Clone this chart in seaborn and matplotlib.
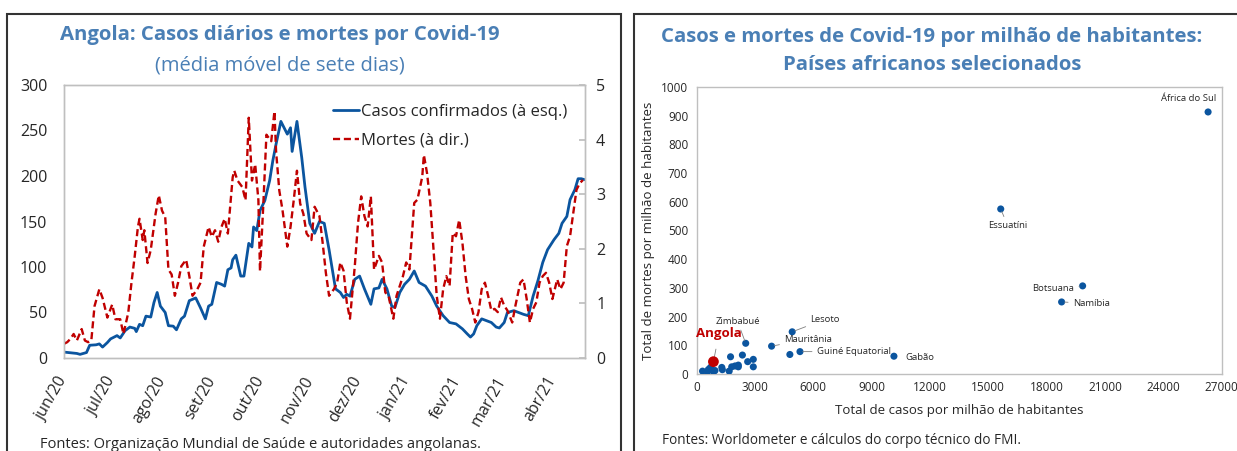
import matplotlib
matplotlib.use('Agg')
import matplotlib.pyplot as plt
from matplotlib.patches import Rectangle
import seaborn as sns
import pandas as pd

# ---- dados: Angola, média móvel de 7 dias (dias desde 1/jun/2020) ----
dias_casos = [0, 8, 10, 14, 16, 20, 22, 24, 27, 29,
              33, 35, 38, 41, 44, 45, 47, 49, 51, 54,
              56, 58, 60, 63, 65, 68, 70, 73, 75, 78,
              82, 85, 88, 90, 92, 95, 98, 100, 102, 104,
              105, 107, 110, 112, 115, 117, 118, 120, 122, 125,
              128, 130, 132, 135, 139, 141, 142, 145, 148, 150,
              153, 156, 159, 162, 165, 169, 172, 174, 176, 178,
              181, 184, 187, 191, 193, 196, 198, 201, 204, 206,
              209, 212, 215, 218, 221, 225, 229, 232, 236, 240,
              244, 248, 251, 253, 255, 257, 260, 263, 266, 269,
              271, 274, 276, 280, 283, 286, 289, 292, 295, 298,
              301, 305, 308, 310, 313, 315, 318, 320, 322, 324]
casos = [6.5, 5, 4, 6, 14, 14.5, 15.5, 12, 17, 21,
         24.6, 22, 30, 34, 32.6, 29, 37, 35.5, 46, 45,
         61, 72, 57, 50, 35.5, 35, 31, 43, 46, 63,
         66, 55, 43, 57, 59, 83, 81, 79, 97, 99,
         108, 113, 90, 90, 126, 122, 144, 140, 162, 173,
         195, 217, 235, 260, 246, 253, 227, 260, 220, 188,
         148, 137, 150, 148, 119, 76, 72, 66.5, 70, 68,
         86.5, 90, 76, 59, 76, 77, 86.5, 76, 57, 55.6,
         72, 81, 86.5, 95.6, 83, 79, 68, 57, 46.5, 39,
         37.5, 32, 26.5, 23, 26.5, 35.6, 43, 41, 39, 34,
         33, 39, 50, 52, 50, 48, 46.5, 68, 85, 105,
         119, 130, 137, 148, 155.6, 174, 185, 197, 197, 196]

dias_mortes = [0, 2, 4, 6, 8, 11, 13, 15, 17, 19,
               22, 24, 27, 30, 32, 35, 37, 40, 42, 44,
               46, 47, 49, 50, 52, 54, 57, 59, 61, 63,
               65, 67, 69, 71, 73, 76, 78, 80, 83, 85,
               87, 90, 92, 94, 96, 98, 100, 102, 105, 106,
               108, 111, 113, 115, 117, 119, 121, 122, 124, 126,
               129, 131, 132, 134, 136, 139, 141, 143, 145, 147,
               149, 151, 154, 156, 159, 161, 163, 165, 168, 170,
               172, 174, 176, 178, 181, 183, 185, 187, 189, 191,
               193, 196, 198, 200, 202, 205, 207, 209, 211, 213,
               215, 218, 220, 223, 224, 226, 228, 230, 232, 234,
               236, 238, 240, 242, 244, 246, 248, 250, 252, 254,
               256, 258, 260, 262, 264, 266, 268, 270, 272, 274,
               276, 279, 281, 284, 286, 288, 290, 292, 294, 296,
               298, 300, 302, 304, 307, 309, 311, 313, 315, 317,
               319, 321, 323]
mortes = [0.26, 0.29, 0.35, 0.44, 0.32, 0.53, 0.32, 0.29, 0.32, 0.95,
          1.26, 1.1, 0.74, 0.98, 0.71, 0.71, 0.44, 0.83, 1.38, 1.86,
          2.4, 2.55, 2.16, 2.34, 1.74, 1.98, 2.64, 2.98, 2.7, 2.58,
          1.62, 1.53, 1.14, 1.38, 1.68, 1.8, 1.5, 1.14, 1.26, 1.38,
          2.04, 2.4, 2.22, 2.34, 2.13, 2.4, 2.55, 2.28, 3.31, 3.43,
          3.25, 3.13, 2.89, 4.4, 3.25, 3.55, 2.89, 1.59, 2.77, 4.09,
          3.97, 4.52, 3.79, 3.07, 2.71, 2.04, 2.4, 2.89, 3.43, 2.83,
          2.64, 2.28, 2.16, 2.77, 2.6, 2.11, 1.56, 1.14, 1.26, 1.38,
          1.75, 1.6, 1.02, 0.72, 1.68, 2.47, 2.96, 2.6, 2.41, 2.96,
          1.62, 1.87, 1.75, 1.2, 1.14, 0.72, 1.14, 1.32, 1.5, 1.75,
          1.62, 2.84, 2.9, 3.32, 3.72, 3.38, 2.84, 1.99, 1.14, 0.72,
          1.26, 1.5, 1.32, 2.29, 2.23, 2.53, 2.11, 1.5, 1.08, 0.9,
          0.65, 0.84, 1.26, 1.38, 1.14, 0.87, 0.9, 0.84, 1.11, 0.96,
          0.87, 0.65, 0.96, 1.38, 1.44, 1.08, 0.65, 0.9, 1.02, 1.38,
          1.5, 1.56, 1.38, 1.08, 1.44, 1.26, 1.38, 2.05, 2.23, 2.65,
          3.08, 3.2, 3.26]

meses = ['jun/20', 'jul/20', 'ago/20', 'set/20', 'out/20', 'nov/20',
         'dez/20', 'jan/21', 'fev/21', 'mar/21', 'abr/21']

# ---- dados: países africanos (por milhão de habitantes) ----
paises = ['África do Sul', 'Essuatíni', 'Botsuana', 'Namíbia', 'Lesoto',
          'Mauritânia', 'Guiné Equatorial', 'Gabão', 'Zimbabué']
casos_pm = [26300, 15640, 19850, 18770, 4920, 3860, 5320, 10150, 2530]
mortes_pm = [913, 575, 307, 251, 147, 97, 78, 62, 107]
# outros países sem rótulo
outros_casos = [310, 560, 615, 720, 870, 950, 1300, 1330, 1680, 1750,
                1810, 1980, 2150, 2150, 2360, 2630, 2920, 2920, 4800]
outros_mortes = [10, 8, 16, 23, 8, 12, 23, 15, 10, 60,
                 25, 28, 31, 25, 66, 43, 51, 25, 68]
angola_casos = [870]
angola_mortes = [43]

# ---- estilo ----
sns.set_theme(style='white')
plt.rcParams['font.family'] = ['Open Sans', 'DejaVu Sans']
AZUL = '#0b559f'
VERMELHO = '#c00000'
TITULO = '#4a7fb5'
CINZA = '#bfbfbf'
TEXTO = '#262626'

W, H = 1237, 451
fig = plt.figure(figsize=(W / 100, H / 100), dpi=100)

# molduras dos dois painéis
fig.patches.append(Rectangle((7 / W, -0.1), (621 - 7) / W, 1.1 - 14 / H,
                             transform=fig.transFigure, fill=False,
                             edgecolor='#333333', lw=1.5))
fig.patches.append(Rectangle((634 / W, -0.1), 0.5, 1.1 - 14 / H,
                             transform=fig.transFigure, fill=False,
                             edgecolor='#333333', lw=1.5))

# ============================================
# PAINEL 1: Angola, casos e mortes diários
# ============================================
inicio = pd.Timestamp('2020-06-01')
df_c = pd.DataFrame({'data': inicio + pd.to_timedelta(dias_casos, unit='D'), 'v': casos})
df_m = pd.DataFrame({'data': inicio + pd.to_timedelta(dias_mortes, unit='D'), 'v': mortes})

ax = fig.add_axes([64 / W, 1 - 358 / H, (585 - 64) / W, (358 - 85) / H])
ax2 = ax.twinx()
sns.lineplot(data=df_c, x='data', y='v', ax=ax, color=AZUL, lw=2, legend=False)
sns.lineplot(data=df_m, x='data', y='v', ax=ax2, color=VERMELHO, lw=1.7,
             linestyle=(0, (3, 1.6)), legend=False)

ax.set_xlim(inicio, inicio + pd.Timedelta(days=324.3))
ax.set_ylim(0, 300)
ax2.set_ylim(0, 5)
ax.set_yticks(range(0, 301, 50))
ax2.set_yticks(range(0, 6))
ticks = pd.date_range('2020-06-01', '2021-04-01', freq='MS')
ax.set_xticks(ticks)
ax.set_xticklabels(meses, rotation=60, ha='right', va='center', rotation_mode='anchor')
ax.set_xlabel('')
ax.set_ylabel('')
ax2.set_ylabel('')
ax.tick_params(axis='x', direction='in', length=4, color=CINZA, labelsize=11.5,
               labelcolor=TEXTO, pad=14)
ax.tick_params(axis='y', length=0, labelsize=11.5, labelcolor=TEXTO, pad=12)
ax2.tick_params(axis='y', direction='in', length=4, color=CINZA, labelsize=11.5,
                labelcolor=TEXTO, pad=8)
for a in (ax, ax2):
    for s in a.spines.values():
        s.set_color(CINZA)
        s.set_linewidth(1)

ax2.legend([ax.lines[0], ax2.lines[0]],
           ['Casos confirmados (à esq.)', 'Mortes (à dir.)'],
           loc='upper right', bbox_to_anchor=(0.995, 0.985), frameon=False,
           fontsize=12, handlelength=1.6, handletextpad=0.1, labelspacing=0.75,
           labelcolor=TEXTO)

fig.text(280 / W, 1 - 35 / H, 'Angola: Casos diários e mortes por Covid-19',
         ha='center', va='center', fontsize=14.7, fontweight='bold', color=TITULO)
fig.text(280 / W, 1 - 65 / H, '(média móvel de sete dias)',
         ha='center', va='center', fontsize=14.5, color=TITULO)
fig.text(40 / W, 1 - 437 / H, 'Fontes: Organização Mundial de Saúde e autoridades angolanas.',
         ha='left', va='top', fontsize=10.5, color=TEXTO)

# ============================================
# PAINEL 2: dispersão por milhão de habitantes
# ============================================
bx = fig.add_axes([696.5 / W, 1 - 374 / H, (1221.7 - 696.5) / W, (374 - 87) / H])
sns.scatterplot(x=outros_casos + casos_pm, y=outros_mortes + mortes_pm, ax=bx,
                color=AZUL, s=26, edgecolor='none', zorder=3)
sns.scatterplot(x=angola_casos, y=angola_mortes, ax=bx, color=VERMELHO, s=60,
                edgecolor='none', zorder=4)
bx.set_xlim(0, 27000)
bx.set_ylim(0, 1000)
bx.set_xticks(range(0, 27001, 3000))
bx.set_yticks(range(0, 1001, 100))
bx.tick_params(axis='x', direction='in', length=3, color=CINZA, labelsize=8.5,
               labelcolor=TEXTO, pad=5)
bx.tick_params(axis='y', direction='out', length=3, color=CINZA, labelsize=8.5,
               labelcolor=TEXTO, pad=3)
for s in bx.spines.values():
    s.set_color(CINZA)
    s.set_linewidth(1)
bx.set_xlabel('Total de casos por milhão de habitantes', fontsize=9.5, color=TEXTO, labelpad=7)
bx.set_ylabel('Total de mortes por milhão de habitantes', fontsize=9.5, color=TEXTO, labelpad=4)

# rótulos dos países: (deslocamento em pontos, alinhamento, linha de chamada)
rotulos = {
    'África do Sul': ((-14, 10), 'center', False),
    'Essuatíni': ((5, -12), 'center', True),
    'Botsuana': ((-6, -2), 'right', True),
    'Namíbia': ((8, -1), 'left', True),
    'Lesoto': ((13, 9), 'left', True),
    'Mauritânia': ((9, 5), 'left', True),
    'Guiné Equatorial': ((12, 0), 'left', True),
    'Gabão': ((8, -1), 'left', False),
    'Zimbabué': ((-6, 16), 'center', True),
}
for nome, cx, cy in zip(paises, casos_pm, mortes_pm):
    off, ha, linha = rotulos[nome]
    bx.annotate(nome, (cx, cy), xytext=off, textcoords='offset points',
                ha=ha, va='center', fontsize=6.8, color=TEXTO,
                arrowprops=dict(arrowstyle='-', color='#7f7f7f', lw=0.6,
                                shrinkA=1, shrinkB=2) if linha else None)
bx.annotate('Angola', (angola_casos[0], angola_mortes[0]), xytext=(4, 20),
            textcoords='offset points', ha='center', va='center', fontsize=9.5,
            fontweight='bold', color=VERMELHO,
            arrowprops=dict(arrowstyle='-', color='#7f7f7f', lw=0.6,
                            shrinkA=4, shrinkB=3))

fig.text(932 / W, 1 - 37 / H, 'Casos e mortes de Covid-19 por milhão de habitantes:',
         ha='center', va='center', fontsize=14.7, fontweight='bold', color=TITULO)
fig.text(932 / W, 1 - 65 / H, 'Países africanos selecionados',
         ha='center', va='center', fontsize=14.7, fontweight='bold', color=TITULO)
fig.text(662 / W, 1 - 433 / H, 'Fontes: Worldometer e cálculos do corpo técnico do FMI.',
         ha='left', va='top', fontsize=9.8, color=TEXTO)

fig.savefig('out.png', dpi=100)
